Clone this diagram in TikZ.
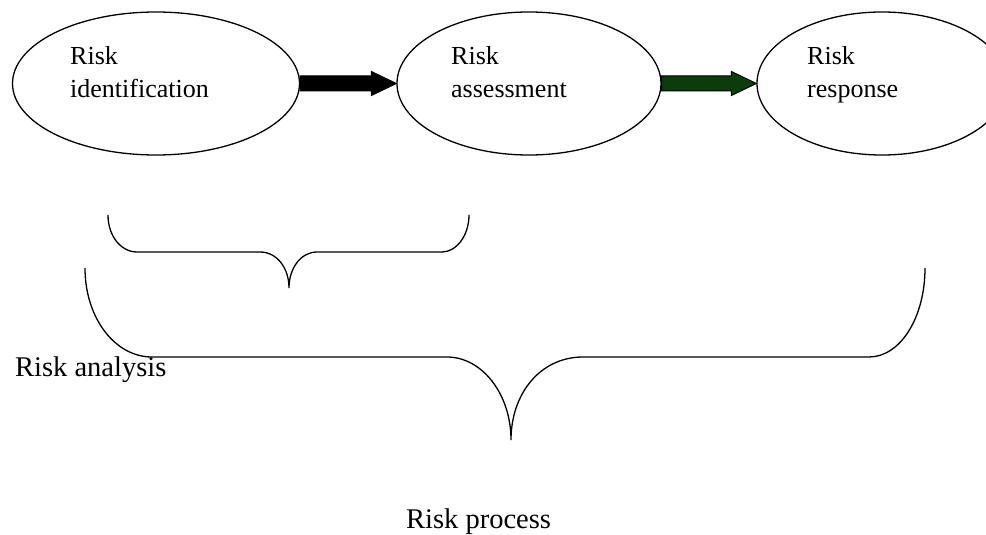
\documentclass[tikz,border=0pt]{standalone}
\usepackage{fontspec}
\setmainfont{Liberation Serif}
\usepackage{tikz}
\usetikzlibrary{calc,shapes.geometric}
\definecolor{arrowgreen}{RGB}{12,60,12}
% thick block arrow from one ellipse to the next
\newcommand{\blockarrow}[3]{%
	\path[blockline, fill=#3] let \p1=(#1.east), \p2=(#2.west) in
	(\x1,\y2-7.5pt) -- (\x2-25pt,\y2-7.5pt) -- (\x2-25pt,\y2-12pt) -- (\p2)
	-- (\x2-25pt,\y2+12pt) -- (\x2-25pt,\y2+7.5pt) -- (\x1,\y2+7.5pt) -- cycle;}

\begin{document}
\begin{tikzpicture}[x=1pt,y=-1pt,
	stage/.style={ellipse,draw,line width=1.3pt,minimum height=143pt,inner sep=0pt},
	stagetext/.style={anchor=north west,align=left,inner sep=0pt,font=\fontsize{26pt}{33pt}\selectfont},
	bracetext/.style={anchor=base west,inner sep=0pt,font=\fontsize{28.5pt}{34pt}\selectfont},
	blockline/.style={draw=black,line width=1pt,line join=miter},
	bracket/.style={draw,line width=1.3pt}]
	\clip (0,0) rectangle (986,535);
	\node [stage, minimum width=287pt]	(riskid)		at (156,83.5)	{};
	\node [stage, minimum width=264pt]	(riskassess)	at (529,83.5)	{};
	\node [stage, minimum width=250pt]	(riskresp)		at (882,83.5)	{};
	\node [stagetext]	(idtext)		at ($(riskid.center)+(-86,-37)$)		{Risk\\identification};
	\node [stagetext]	(assesstext)	at ($(riskassess.center)+(-78,-37)$)	{Risk\\assessment};
	\node [stagetext]	(resptext)		at ($(riskresp.center)+(-75,-37)$)		{Risk\\response};
	\blockarrow{riskid}{riskassess}{black}
	\blockarrow{riskassess}{riskresp}{arrowgreen}
	% braces
	\path[bracket] (108,215) .. controls (108,236) and (121,252) .. (137,252) -- (260,252)
		.. controls (277,252) and (289,268) .. (289,288)
		.. controls (289,268) and (301,252) .. (317,252) -- (442,252)
		.. controls (456,252) and (469,236) .. (469,215);
	\path[bracket] (85,268) .. controls (85,318) and (115,357) .. (152,357) -- (447,357)
		.. controls (482,357) and (511,394) .. (511,440)
		.. controls (511,394) and (540,357) .. (583,357) -- (869,357)
		.. controls (900,357) and (925,318) .. (925,268);
	\node [bracetext]	(analysis)	at (15,376)		{Risk analysis};
	\node [bracetext]	(process)	at (406,528)	{Risk process};
\end{tikzpicture}
\end{document}
